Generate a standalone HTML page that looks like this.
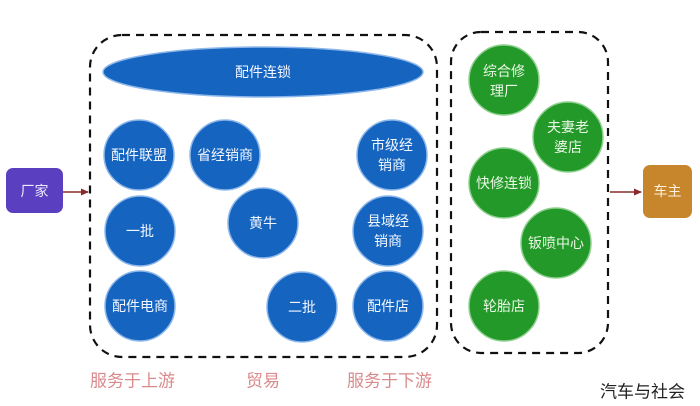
<!DOCTYPE html>
<html><head><meta charset="utf-8">
<style>
html,body{margin:0;padding:0;background:#fff;}
svg{display:block;}
text{font-family:"Liberation Sans","Noto Sans CJK SC",sans-serif;}
</style></head>
<body>
<svg width="700" height="406" viewBox="0 0 700 406" xmlns="http://www.w3.org/2000/svg">
<defs>
<filter id="gb" x="-20%" y="-20%" width="140%" height="140%">
<feGaussianBlur in="SourceAlpha" stdDeviation="1.5"/>
<feFlood flood-color="#8fb8ea"/>
<feComposite operator="in" in2="SourceAlpha"/>
</filter>
<marker id="ar" markerWidth="8" markerHeight="8" refX="7" refY="4" orient="auto" markerUnits="userSpaceOnUse">
<path d="M0,0.5 L8,4 L0,7.5 Z" fill="#8a2a2a"/>
</marker>
</defs>
<rect width="700" height="406" fill="#fff"/>

<!-- dashed boxes -->
<rect x="90" y="35" width="347" height="322" rx="32" ry="32" fill="none" stroke="#111" stroke-width="2.2" stroke-dasharray="8,6"/>
<rect x="451" y="32" width="157" height="321" rx="30" ry="30" fill="none" stroke="#111" stroke-width="2.2" stroke-dasharray="8,6"/>

<!-- blue -->
<g fill="#1565c0" stroke="#8fb8ea" stroke-width="1.5">
<ellipse cx="263" cy="72" rx="160" ry="25"/>
<circle cx="139" cy="155" r="35"/>
<circle cx="225" cy="155" r="35"/>
<circle cx="392" cy="155" r="35"/>
<circle cx="140" cy="231" r="35"/>
<circle cx="263" cy="223" r="35"/>
<circle cx="388" cy="231" r="35"/>
<circle cx="140" cy="306" r="35"/>
<circle cx="302" cy="307" r="35"/>
<circle cx="388" cy="306" r="35"/>
</g>
<!-- green -->
<g fill="#23992a" stroke="#8fd08f" stroke-width="1.5">
<circle cx="504" cy="80" r="35"/>
<circle cx="568" cy="137" r="35"/>
<circle cx="504" cy="183" r="35"/>
<circle cx="556" cy="243" r="35"/>
<circle cx="504" cy="306" r="35"/>
</g>

<g fill="#f2f6ff" font-size="14" text-anchor="middle" dominant-baseline="central">
<text x="263" y="72">配件连锁</text>
<text x="139" y="155">配件联盟</text>
<text x="225" y="155">省经销商</text>
<text x="392" y="145">市级经</text>
<text x="392" y="165">销商</text>
<text x="140" y="231">一批</text>
<text x="263" y="223">黄牛</text>
<text x="388" y="221">县域经</text>
<text x="388" y="241">销商</text>
<text x="140" y="306">配件电商</text>
<text x="302" y="307">二批</text>
<text x="388" y="306">配件店</text>
</g>
<g fill="#eaf7e4" font-size="14" text-anchor="middle" dominant-baseline="central">
<text x="504" y="71">综合修</text>
<text x="504" y="91">理厂</text>
<text x="568" y="127">夫妻老</text>
<text x="568" y="147">婆店</text>
<text x="504" y="183">快修连锁</text>
<text x="556" y="243">钣喷中心</text>
<text x="504" y="306">轮胎店</text>
</g>

<!-- 厂家 -->
<rect x="6" y="168" width="57" height="45" rx="7" fill="#5a40c0"/>
<text x="34.5" y="191" fill="#ece8ff" font-size="14" text-anchor="middle" dominant-baseline="central">厂家</text>
<line x1="63" y1="192" x2="88" y2="192" stroke="#8a2a2a" stroke-width="1.5" marker-end="url(#ar)"/>

<!-- 车主 -->
<rect x="643" y="165" width="49" height="53" rx="7" fill="#c7852c"/>
<text x="667.5" y="191" fill="#fdf1de" font-size="14" text-anchor="middle" dominant-baseline="central">车主</text>
<line x1="610" y1="192" x2="641" y2="192" stroke="#8a2a2a" stroke-width="1.5" marker-end="url(#ar)"/>

<!-- bottom labels -->
<g fill="#d98a8c" font-size="17" dominant-baseline="central">
<text x="90" y="381">服务于上游</text>
<text x="246" y="381">贸易</text>
<text x="347" y="381">服务于下游</text>
</g>
<text x="600" y="392" fill="#222" font-size="17" dominant-baseline="central">汽车与社会</text>
</svg>
</body></html>
